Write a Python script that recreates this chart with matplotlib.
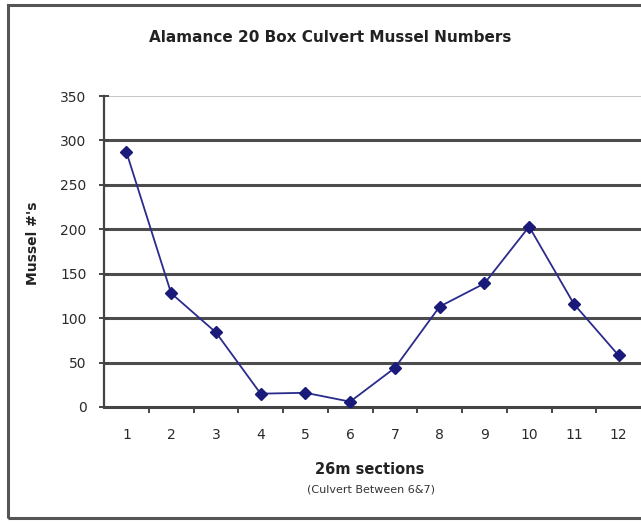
import matplotlib
matplotlib.use("Agg")
import matplotlib.pyplot as plt
from matplotlib.patches import Rectangle

plt.rcParams['font.family'] = ['DejaVu Sans']

sections = [1, 2, 3, 4, 5, 6, 7, 8, 9, 10, 11, 12]
mussels = [287, 128, 84, 15, 16, 6, 44, 113, 139, 203, 116, 58]
y_ticks = [0, 50, 100, 150, 200, 250, 300, 350]

title = "Alamance 20 Box Culvert Mussel Numbers"
x_label = "26m sections"
x_sublabel = "(Culvert Between 6&7)"
y_label = "Mussel #'s"

W, H = 641, 522
fig = plt.figure(figsize=(W / 100, H / 100), dpi=100)
fig.patch.set_facecolor("white")

# chart frame (runs off the right edge)
fig.add_artist(Rectangle((8 / W, 1 - 518 / H), 1.0, (518 - 5) / H,
                         transform=fig.transFigure, fill=False,
                         edgecolor="#555555", linewidth=2.2, clip_on=False))

left, right, top, bottom = 104, 641, 96, 407
ax = fig.add_axes([left / W, 1 - bottom / H, (right - left) / W, (bottom - top) / H])
ax.set_xlim(0.5, 12.5)
ax.set_ylim(0, 350)

for v in y_ticks[1:-1]:
    ax.axhline(v, color="#4d4d4d", linewidth=2.2, zorder=1)
ax.axhline(350, color="#bdbdbd", linewidth=1.2, zorder=1)

for s in ["top", "right"]:
    ax.spines[s].set_visible(False)
ax.spines["left"].set_color("#444444")
ax.spines["left"].set_linewidth(1.6)
ax.spines["bottom"].set_color("#444444")
ax.spines["bottom"].set_linewidth(2.2)

ax.plot(sections, mussels, color="#2b2b8c", linewidth=1.3, marker="D",
        markersize=6.5, markerfacecolor="#1a1a7a", markeredgecolor="#1a1a7a", zorder=3)

ax.set_yticks(y_ticks)
ax.set_yticklabels([str(v) for v in y_ticks])
ax.set_xticks(sections)
ax.set_xticklabels([str(s) for s in sections])
ax.set_xticks([s + 0.5 for s in sections[:-1]], minor=True)

ax.tick_params(axis="y", direction="inout", length=7, width=1.4, color="#444444",
               labelsize=10, labelcolor="#2a2a2a", pad=9)
ax.tick_params(axis="x", which="major", length=0, labelsize=10,
               labelcolor="#2a2a2a", pad=15)
ax.tick_params(axis="x", which="minor", direction="out", length=4, width=1.4,
               color="#444444")

fig.text(330 / W, 1 - 38 / H, title, ha="center", va="center", fontsize=11,
         fontweight="bold", color="#222222")
fig.text(33 / W, 1 - 243 / H, y_label, ha="center", va="center", rotation=90,
         fontsize=10, fontweight="bold", color="#222222")
fig.text(370 / W, 1 - 470 / H, x_label, ha="center", va="center", fontsize=10.5,
         fontweight="bold", color="#222222")
fig.text(371 / W, 1 - 489 / H, x_sublabel, ha="center", va="center", fontsize=8,
         color="#333333")

fig.savefig("out.png", dpi=100)
